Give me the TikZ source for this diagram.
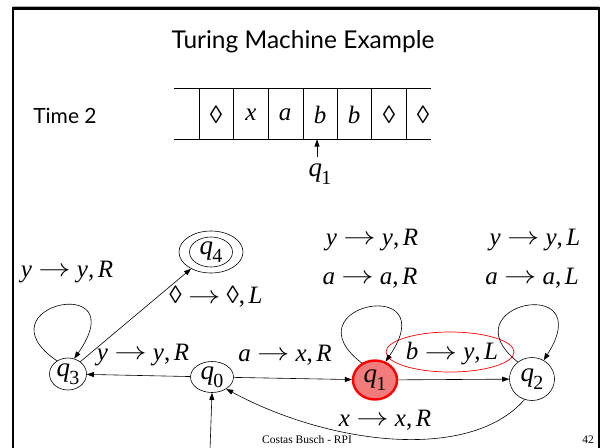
\documentclass[tikz,border=0pt]{standalone}
\usepackage{fontspec}
\usepackage{graphicx}
\setmainfont{Liberation Serif}
\newfontfamily\gill{Lato}
\usetikzlibrary{arrows.meta,shapes.geometric}
\newcommand\ti[1]{\textit{#1}}
\newcommand\dia{◊}
\newcommand\tlab[3]{#1\kern.25em\raisebox{.02em}{\scalebox{1.3}[1]{$\rightarrow$}}\kern.25em#2,\kern.14em#3}
\newcommand\qq[1]{\textit{q}\kern-.03em\raisebox{-.3em}{\fontsize{20}{20}\selectfont #1}}
\tikzset{
  state/.style={draw, ellipse, inner sep=0pt, line width=0.6pt},
  lab/.style={font=\fontsize{25}{25}\selectfont, inner sep=0pt},
  qlab/.style={font=\fontsize{27}{27}\selectfont, inner sep=0pt},
  tri/.style={-{Triangle[length=7pt,width=5pt]}, line width=0.6pt},
  tape/.style={line width=0.8pt},
  sym/.style={font=\fontsize{25}{25}\selectfont, inner sep=0pt}
}
\begin{document}
\begin{tikzpicture}[x=1pt,y=-1pt]
\useasboundingbox (0,0) rectangle (602,447);
% frame
\draw[gray!60, line width=1pt] (13,6) -- (599,6);
\draw[line width=2.6pt] (13,450) -- (13,8.2) -- (599,8.2) -- (599,450);
% title
\node[font=\gill\fontsize{24.5}{24.5}\selectfont, inner sep=0pt] (title) at (303,42) {Turing Machine Example};
\node[font=\gill\fontsize{21}{21}\selectfont, inner sep=0pt] (time) at (65,116) {Time 2};
% tape
\draw[tape] (174,88) -- (431,88);
\draw[tape] (174,139) -- (431,139);
\foreach \x in {199,233.5,268,303,337,371,406}{\draw[tape] (\x,88) -- (\x,139);}
\node[sym] (c1) at (216,115) {\dia};
\node[sym] (c2) at (251,115) {\ti{x}};
\node[sym] (c3) at (285,115) {\ti{a}};
\node[sym] (c4) at (320,115) {\ti{b}};
\node[sym] (c5) at (354,115) {\ti{b}};
\node[sym] (c6) at (389,115) {\dia};
\node[sym] (c7) at (423,115) {\dia};
\node[qlab] (head) at (320,174) {\qq{1}};
\coordinate (headtail) at (317,157);
\coordinate (headtip) at (317,139.5);
\draw[tri] (headtail) -- (headtip);
% states
\node[state, minimum width=43pt, minimum height=31pt] (q0) at (212,377) {};
\node[qlab] at (q0) {\qq{0}};
\node[state, minimum width=37pt, minimum height=32pt] (q3) at (68,374) {};
\node[qlab] at (q3) {\qq{3}};
\node[state, minimum width=64pt, minimum height=42pt] (q4) at (211,252) {};
\node[state, minimum width=43pt, minimum height=30pt] (q4i) at (211,252) {};
\node[qlab] at (q4) {\qq{4}};
\node[state, draw=red, line width=2.4pt, fill={rgb,255:red,242;green,124;blue,124}, minimum width=44pt, minimum height=39pt] (q1) at (375,380) {};
\node[qlab] at (q1) {\qq{1}};
\node[state, minimum width=45pt, minimum height=43pt] (q2) at (532,379) {};
\node[qlab] at (q2) {\qq{2}};
% red ellipse highlight
\node[draw=red, ellipse, line width=0.7pt, minimum width=128pt, minimum height=40pt, inner sep=0pt] (hl) at (450,352) {};
% edges
\draw[tri] (q0) -- (q3);
\draw[tri] (q0) -- (q1);
\draw[tri] (q1) -- (q2);
\draw[tri] (q3.45) -- (q4);
\draw[tri] (q2.250) .. controls (470,462) and (330,445) .. (q0.-40);
\coordinate (init) at (210,450);
\draw[tri] (init) -- (q0.south);
% loops
\draw[tri] (q3.130) .. controls +(-80,-55) and +(62,-88) .. (q3.68);
\draw[tri] (q1.128) .. controls +(-75,-58) and +(60,-88) .. (q1.60);
\draw[tri] (q2.130) .. controls +(-72,-58) and +(56,-88) .. (q2.58);
% labels
\node[lab] (l1) at (67,272) {\tlab{\ti{y}}{\ti{y}}{\ti{R}}};
\node[lab] (l2) at (216,297) {\tlab{\dia}{\dia}{\ti{L}}};
\node[lab] (l3) at (143,355) {\tlab{\ti{y}}{\ti{y}}{\ti{R}}};
\node[lab] (l4) at (285,355) {\tlab{\ti{a}}{\ti{x}}{\ti{R}}};
\node[lab] (l5) at (372,240) {\tlab{\ti{y}}{\ti{y}}{\ti{R}}};
\node[lab] (l6) at (370,278) {\tlab{\ti{a}}{\ti{a}}{\ti{R}}};
\node[lab] (l7) at (535,240) {\tlab{\ti{y}}{\ti{y}}{\ti{L}}};
\node[lab] (l8) at (532,278) {\tlab{\ti{a}}{\ti{a}}{\ti{L}}};
\node[lab] (l9) at (452,354) {\tlab{\ti{b}}{\ti{y}}{\ti{L}}};
\node[lab] (l10) at (385,420) {\tlab{\ti{x}}{\ti{x}}{\ti{R}}};
% footer
\node[font=\fontsize{11.5}{11.5}\selectfont, inner sep=0pt] (foot) at (307,440) {Costas Busch - RPI};
\node[font=\fontsize{11.5}{11.5}\selectfont, inner sep=0pt] (page) at (588,440) {42};
\end{tikzpicture}
\end{document}
